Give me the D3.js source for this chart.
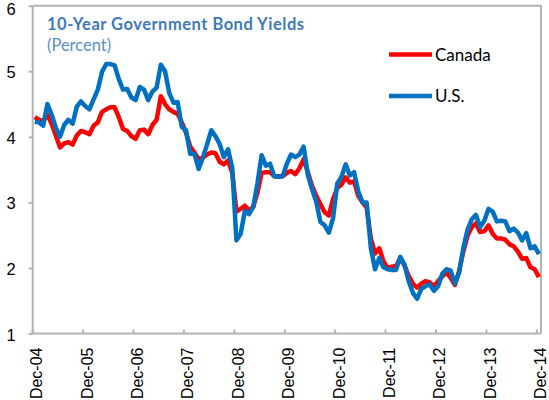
<!DOCTYPE html>
<head>
<meta charset="utf-8">
<title>10-Year Government Bond Yields</title>
<script src="https://d3js.org/d3.v7.min.js"></script>
<style>
body {
  margin: 0;
  background: #fff;
  font-family: Lato, sans-serif;
}

svg {
  display: block;
}

.axis text {
  font-size: 16.5px;
  fill: #000;
}

.axis.x text {
  font-size: 16px;
}

.axis path, .axis line, .frame {
  stroke: #b3b3b3;
  stroke-width: 2px;
  fill: none;
}

.series {
  fill: none;
  stroke-width: 4.5px;
  stroke-linejoin: round;
}
</style>
</head>
<body>
<script>

// monthly 10-year yields, Dec-04 .. Dec-14
const months = d3.timeMonth.range(new Date(2004, 11, 1), new Date(2015, 0, 1));

const canada = [4.30,
  4.26, 4.24, 4.34, 4.20, 4.02, 3.84, 3.90, 3.92, 3.88, 4.02, 4.09, 4.07,
  4.04, 4.17, 4.22, 4.38, 4.42, 4.45, 4.45, 4.30, 4.12, 4.09, 4.01, 3.97,
  4.10, 4.11, 4.04, 4.18, 4.26, 4.62, 4.50, 4.42, 4.38, 4.35, 4.22, 4.06,
  3.85, 3.76, 3.66, 3.68, 3.73, 3.76, 3.75, 3.62, 3.58, 3.64, 3.45, 2.86,
  2.90, 2.95, 2.88, 2.93, 3.15, 3.45, 3.46, 3.46, 3.40, 3.40, 3.40, 3.45,
  3.48, 3.43, 3.52, 3.66, 3.46, 3.25, 3.10, 2.97, 2.85, 2.80, 3.05, 3.22,
  3.27, 3.38, 3.30, 3.32, 3.10, 3.00, 2.92, 2.45, 2.22, 2.30, 2.10, 2.00,
  2.02, 2.03, 2.14, 2.04, 1.88, 1.76, 1.70, 1.76, 1.80, 1.78, 1.72, 1.80,
  1.87, 1.93, 1.85, 1.74, 1.95, 2.25, 2.49, 2.62, 2.68, 2.55, 2.56, 2.65,
  2.52, 2.45, 2.45, 2.43, 2.36, 2.33, 2.25, 2.14, 2.15, 2.01, 1.98, 1.86];

const us = [4.23,
  4.22, 4.17, 4.50, 4.34, 4.14, 4.00, 4.18, 4.26, 4.20, 4.46, 4.54, 4.47,
  4.42, 4.57, 4.72, 4.99, 5.11, 5.11, 5.09, 4.88, 4.72, 4.73, 4.60, 4.56,
  4.76, 4.72, 4.56, 4.69, 4.75, 5.10, 5.00, 4.67, 4.52, 4.53, 4.15, 4.10,
  3.74, 3.74, 3.51, 3.68, 3.88, 4.10, 4.01, 3.89, 3.69, 3.81, 3.53, 2.42,
  2.52, 2.87, 2.82, 2.93, 3.29, 3.72, 3.56, 3.59, 3.40, 3.39, 3.40, 3.59,
  3.73, 3.69, 3.73, 3.85, 3.42, 3.20, 3.01, 2.70, 2.65, 2.54, 2.76, 3.29,
  3.39, 3.58, 3.41, 3.46, 3.17, 3.00, 3.00, 2.30, 1.98, 2.15, 2.01, 1.98,
  1.97, 1.97, 2.17, 2.05, 1.80, 1.62, 1.53, 1.68, 1.72, 1.75, 1.65, 1.72,
  1.91, 1.98, 1.96, 1.76, 1.93, 2.30, 2.58, 2.74, 2.81, 2.62, 2.72, 2.90,
  2.86, 2.71, 2.72, 2.71, 2.56, 2.60, 2.54, 2.42, 2.53, 2.30, 2.33, 2.21];

const xTickLabels = ["Dec-04", "Dec-05", "Dec-06", "Dec-07", "Dec-08", "Dec-09",
  "Dec-10", "Dec-11", "Dec-12", "Dec-13", "Dec-14"];
const yTicks = [1, 2, 3, 4, 5, 6];

const seriesNames = ["Canada", "U.S."];
const seriesColors = ["#ff0000", "#0070c0"];

const width = 549,
  height = 400;

const margin = {top: 5.7, right: 8, bottom: 66.5, left: 32.7};

const svg = d3.select('body').append('svg')
  .attr('width', width)
  .attr('height', height);

const x = d3.scaleBand()
  .domain(months.map((d, i) => i))
  .range([margin.left, width - margin.right])
  .padding(0);

const y = d3.scaleLinear()
  .domain([1, 6])
  .range([height - margin.bottom, margin.top]);

const fmt = d3.timeFormat("%b-%y");
const tickIdx = months.map((d, i) => i).filter(i => xTickLabels.includes(fmt(months[i])));

// frame (top + right)
svg.append('path')
  .attr('class', 'frame')
  .attr('d', 'M' + margin.left + ',' + y(6) + 'H' + (width - margin.right) + 'V' + y(1));

// y axis
svg.append('g')
  .attr('class', 'axis y')
  .attr('transform', 'translate(' + margin.left + ',0)')
  .call(d3.axisLeft(y).tickValues(yTicks).tickSize(4).tickPadding(13).tickFormat(d3.format('d')))
  .call(g => g.select('.domain').attr('d', 'M0,' + y(6) + 'V' + y(1)))
  .call(g => g.selectAll('.tick text').attr('dy', d => d === 6 ? '0.55em' : '0.4em'));

// x axis, ticks point inward, labels rotated
const xAxis = svg.append('g')
  .attr('class', 'axis x')
  .attr('transform', 'translate(0,' + y(1) + ')')
  .call(d3.axisBottom(x).tickValues(tickIdx).tickSize(-4).tickFormat(i => fmt(months[i])));

xAxis.selectAll('.tick').attr('transform', i => 'translate(' + x(i) + ',0)');
xAxis.select('.domain').attr('d', 'M' + margin.left + ',0H' + (width - margin.right));
xAxis.selectAll('.tick text')
  .attr('text-anchor', 'end')
  .attr('transform', 'translate(9.5,14) rotate(-90)')
  .attr('x', 0)
  .attr('y', 0)
  .attr('dy', 0);

// lines
const line = d3.line()
  .x((d, i) => x(i) + x.bandwidth() / 2)
  .y(d => y(d));

svg.append('g')
  .selectAll('path')
  .data([canada, us])
  .enter().append('path')
    .attr('class', 'series')
    .attr('stroke', (d, i) => seriesColors[i])
    .attr('d', line);

// title
svg.append('text')
  .attr('x', 47)
  .attr('y', 30)
  .style('font-size', '16.5px')
  .style('font-weight', 'bold')
  .style('letter-spacing', '0.5px')
  .style('fill', '#3f7ab8')
  .text('10-Year Government Bond Yields');

svg.append('text')
  .attr('x', 47)
  .attr('y', 50.5)
  .style('font-size', '16.5px')
  .style('fill', '#5b8fc9')
  .text('(Percent)');

// legend
const legend = svg.append('g')
  .selectAll('g')
  .data(seriesNames)
  .enter().append('g')
    .attr('transform', (d, i) => 'translate(389,' + (54.5 + i * 41.5) + ')');

legend.append('line')
  .attr('x2', 43)
  .attr('stroke', (d, i) => seriesColors[i])
  .attr('stroke-width', 4.5);

legend.append('text')
  .attr('x', 46)
  .attr('y', 6)
  .style('font-size', '17px')
  .text(d => d);

</script>
</body>
